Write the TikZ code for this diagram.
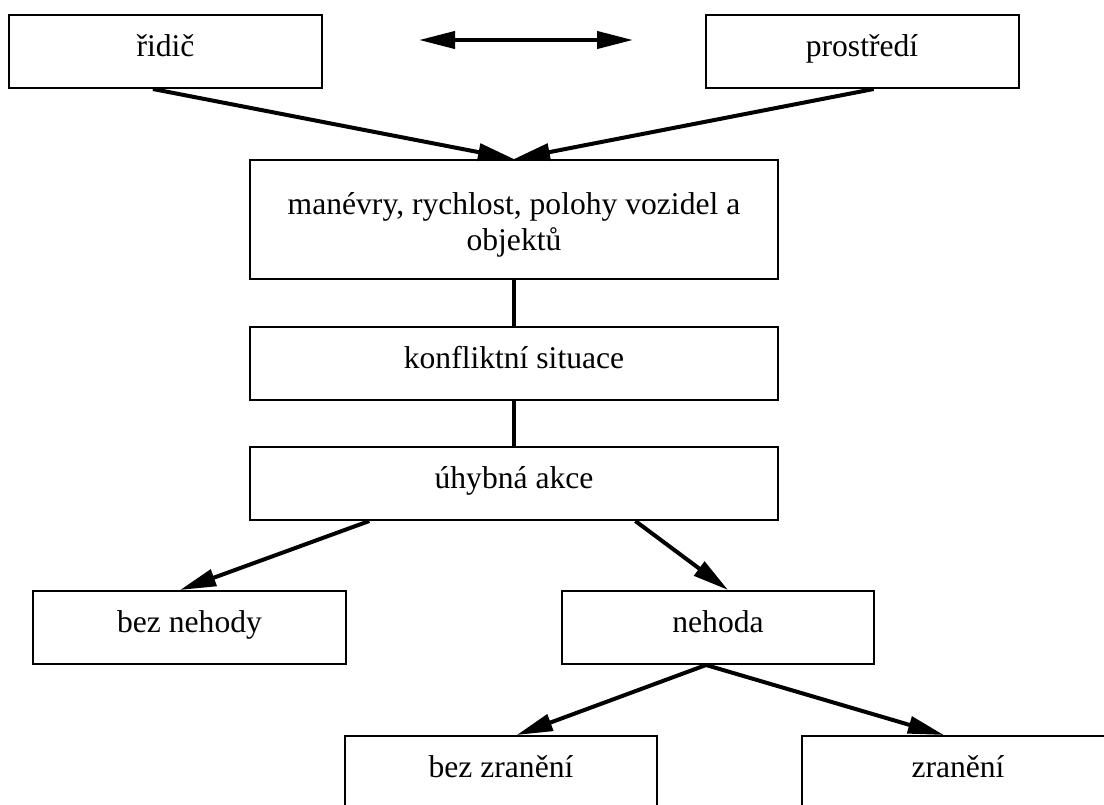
\documentclass[tikz,border=0pt]{standalone}
\usepackage{fontspec}
\setmainfont{Liberation Serif}
\usetikzlibrary{arrows.meta,calc}
\begin{document}
\begin{tikzpicture}[x=1pt,y=-1pt,
  box/.style={draw, line width=2pt, inner sep=0pt, minimum height=73pt,
    font=\fontsize{31.6}{36}\selectfont, text height=20pt, text depth=11pt},
  conn/.style={line width=4pt, -{Triangle[length=36pt,width=17pt]}},
  link/.style={line width=4pt}]
\clip (0,0) rectangle (1104,804);
\fill[white] (0,0) rectangle (1104,804);
% nodes
\node[box, minimum width=313pt] (ridic) at (165.5,51.5) {řidič};
\node[box, minimum width=313pt] (prostredi) at (862,51.5) {prostředí};
\node[box, minimum width=528pt, minimum height=119pt, text depth=31pt] (manevry) at (514,219.5)
  {\parbox[t]{520pt}{\centering manévry, rychlost, polohy vozidel a\\objektů}};
\node[box, minimum width=528pt] (konflikt) at (514,363.5) {konfliktní situace};
\node[box, minimum width=528pt] (uhyb) at (514,483.5) {úhybná akce};
\node[box, minimum width=313pt] (beznehody) at (189.5,627.5) {bez nehody};
\node[box, minimum width=312pt] (nehoda) at (718,627.5) {nehoda};
\node[box, minimum width=312pt] (bezzraneni) at (501,772.5) {bez zranění};
\node[box, minimum width=312pt] (zraneni) at (958,772.5) {zranění};
% double arrow
\coordinate (dl) at (419,40);
\coordinate (dr) at (633,40);
\draw[line width=4pt, {Triangle[length=36pt,width=17pt]}-{Triangle[length=36pt,width=17pt]}] (dl) -- (dr);
% connectors
\coordinate (mtop) at ($(manevry.north west)!0.5!(manevry.north east)$);
\draw[conn] ($(ridic.south west)!0.46!(ridic.south east)$) -- (mtop);
\draw[conn] ($(prostredi.south west)!0.537!(prostredi.south east)$) -- (mtop);
\draw[link] (manevry.south) -- (konflikt.north);
\draw[link] (konflikt.south) -- (uhyb.north);
\draw[conn] ($(uhyb.south west)!0.227!(uhyb.south east)$) -- ($(beznehody.north west)!0.47!(beznehody.north east)$);
\draw[conn] ($(uhyb.south west)!0.729!(uhyb.south east)$) -- ($(nehoda.north west)!0.532!(nehoda.north east)$);
\coordinate (nbot) at ($(nehoda.south west)!0.462!(nehoda.south east)$);
\draw[conn] (nbot) -- ($(bezzraneni.north west)!0.55!(bezzraneni.north east)$);
\draw[conn] (nbot) -- ($(zraneni.north west)!0.455!(zraneni.north east)$);
\end{tikzpicture}
\end{document}
